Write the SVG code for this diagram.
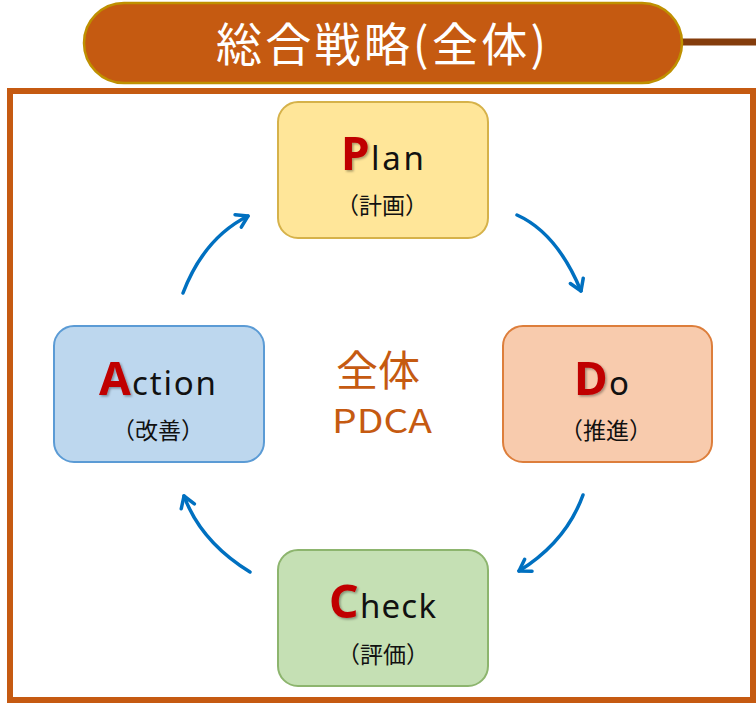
<svg xmlns="http://www.w3.org/2000/svg" width="756" height="707" viewBox="0 0 756 707">
  <style>
    .jp { font-family: "Noto Sans CJK JP", "Noto Sans", sans-serif; }
    .big { font-family: "Noto Sans", "Liberation Sans", sans-serif; font-weight: bold; font-size: 46px; fill: #C00000; filter: url(#shadow); }
    .rest { font-family: "Noto Sans", "Liberation Sans", sans-serif; font-size: 33px; fill: #111; }
    .sub { font-family: "Noto Sans CJK JP", sans-serif; font-size: 23px; fill: #111; text-anchor: middle; }
    .arrow { fill: none; stroke: #0070C0; stroke-width: 3.5; stroke-linecap: round; marker-end: url(#head); }
  </style>
  <defs>
    <filter id="shadow" x="-20%" y="-20%" width="150%" height="150%">
      <feDropShadow dx="1.5" dy="1.5" stdDeviation="1" flood-color="#000" flood-opacity="0.35"/>
    </filter>
    <marker id="head" markerUnits="userSpaceOnUse" markerWidth="30" markerHeight="30" viewBox="-15 -15 30 30" refX="0" refY="0" orient="auto">
      <path d="M-11,-7 L0,0 L-11,7" fill="none" stroke="#0070C0" stroke-width="3.5" stroke-linecap="round" stroke-linejoin="round"/>
    </marker>
  </defs>

  <g id="frame">
    <rect x="10" y="91" width="743" height="609" fill="#FFFFFF" stroke="#C55A11" stroke-width="6"/>
  </g>

  <g id="title">
    <line x1="680" y1="42" x2="756" y2="42" stroke="#843C0C" stroke-width="7"/>
    <rect x="84" y="3" width="598" height="80" rx="40" ry="40" fill="#C55A11" stroke="#BF9000" stroke-width="2.5"/>
    <text class="jp" x="216" y="61" font-size="46" fill="#FFFFFF" textLength="330" lengthAdjust="spacing">総合戦略(全体)</text>
  </g>

  <g id="connectors">
    <path class="arrow" d="M183,293 Q204,238 248,216"/>
    <path class="arrow" d="M517,215 Q557,233 581,291"/>
    <path class="arrow" d="M583,495 Q566,542 519,571"/>
    <path class="arrow" d="M250,572 Q201,542 184,496"/>
  </g>

  <g id="plan">
    <rect x="278" y="102" width="210" height="136" rx="20" ry="20" fill="#FFE699" stroke="#D6B24A" stroke-width="2"/>
    <text class="big" x="341" y="170">P</text>
    <text class="rest" x="371" y="170" textLength="53" lengthAdjust="spacing">lan</text>
    <text class="sub" x="382" y="214">（計画）</text>
  </g>

  <g id="do">
    <rect x="503" y="326" width="209" height="136" rx="20" ry="20" fill="#F8CBAD" stroke="#DD7E3B" stroke-width="2"/>
    <text class="big" x="574" y="395">D</text>
    <text class="rest" x="609" y="395" font-size="34">o</text>
    <text class="sub" x="606" y="439">（推進）</text>
  </g>

  <g id="action">
    <rect x="54" y="326" width="210" height="136" rx="20" ry="20" fill="#BDD7EE" stroke="#5B9BD5" stroke-width="2"/>
    <text class="big" x="99" y="395">A</text>
    <text class="rest" x="132" y="395" textLength="84" lengthAdjust="spacing">ction</text>
    <text class="sub" x="158" y="439">（改善）</text>
  </g>

  <g id="check">
    <rect x="278" y="550" width="210" height="136" rx="20" ry="20" fill="#C5E0B4" stroke="#8DB56E" stroke-width="2"/>
    <text class="big" x="329" y="618">C</text>
    <text class="rest" x="360" y="618" textLength="76" lengthAdjust="spacing">heck</text>
    <text class="sub" x="383" y="663">（評価）</text>
  </g>

  <g id="center">
    <text class="jp" x="378" y="386" font-size="42" fill="#C55A11" text-anchor="middle">全体</text>
    <text class="jp" x="332" y="433" font-size="33" fill="#C55A11" textLength="100" lengthAdjust="spacingAndGlyphs">PDCA</text>
  </g>
</svg>
